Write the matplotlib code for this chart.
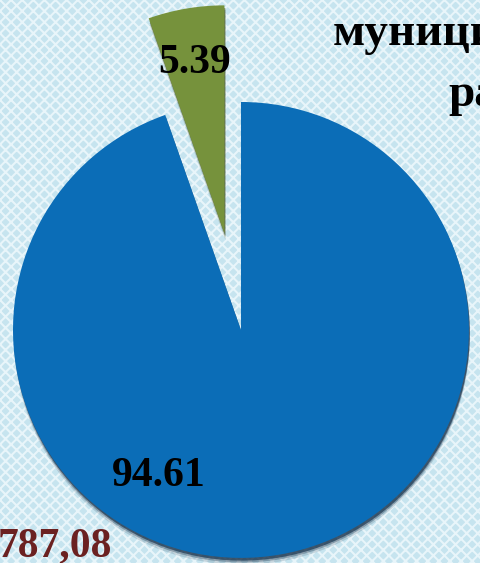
""" Pie chart: share of budget """

import matplotlib.pyplot as plt
from matplotlib.patches import Rectangle

# data

shares = [5.39, 94.61]
share_labels = ['5.39', '94.61']
colors = ['#76923c', '#0b6db7']
explode = [0.43, 0.0]
title_parts = ['муниципального', 'района']
total_label = '787,08'

# plot design

plt.rcParams['font.family'] = ['Liberation Serif', 'DejaVu Serif']
plt.rcParams['font.weight'] = 'bold'
plt.rcParams['hatch.linewidth'] = 1.5

fig = plt.figure(figsize=(4.81, 5.63), dpi=100)
fig.patch.set_facecolor('#c6e4ef')
ax = fig.add_axes([0, 0, 1, 1])

# soft shadow under the slices

for off, alpha in [(0.03, 0.15), (0.02, 0.3), (0.012, 0.6)]:
    shadow, _ = ax.pie(shares, radius=1.0, startangle=90, counterclock=True,
                       explode=explode, center=(0.004, -off),
                       colors=['#3d4a1e', '#0b2540'],
                       wedgeprops=dict(linewidth=0, alpha=alpha))
    for w in shadow:
        w.set_zorder(1)

wedges, _ = ax.pie(shares, radius=1.0, startangle=90, counterclock=True,
                   explode=explode, colors=colors,
                   wedgeprops=dict(linewidth=0))
for w in wedges:
    w.set_zorder(2)

ax.set_xlim(-1.057, 1.053)
ax.set_ylim(-1.022, 1.447)
ax.set_aspect('equal')
ax.axis('off')

# background lattice

bg = Rectangle((0, 0), 1, 1, transform=ax.transAxes, facecolor='#c6e4ef',
               edgecolor='#e8f5fa', hatch='xxx', linewidth=0, zorder=0)
ax.add_patch(bg)

# labels

ax.text(-0.204, 1.17, share_labels[0], ha='center', va='center',
        fontsize=30, fontweight='bold', color='black', zorder=3)
ax.text(-0.36, -0.64, share_labels[1], ha='center', va='center',
        fontsize=30, fontweight='bold', color='black', zorder=3)

fig.text(333 / 481, 1 - 45 / 563, title_parts[0], ha='left', va='baseline',
         fontsize=34, fontweight='bold', color='black')
fig.text(448 / 481, 1 - 106 / 563, title_parts[1], ha='left', va='baseline',
         fontsize=34, fontweight='bold', color='black')
fig.text(-2 / 481, 1 - 556 / 563, total_label, ha='left', va='baseline',
         fontsize=30, fontweight='bold', color='#6b2121')

plt.savefig('out.png', dpi=100)
